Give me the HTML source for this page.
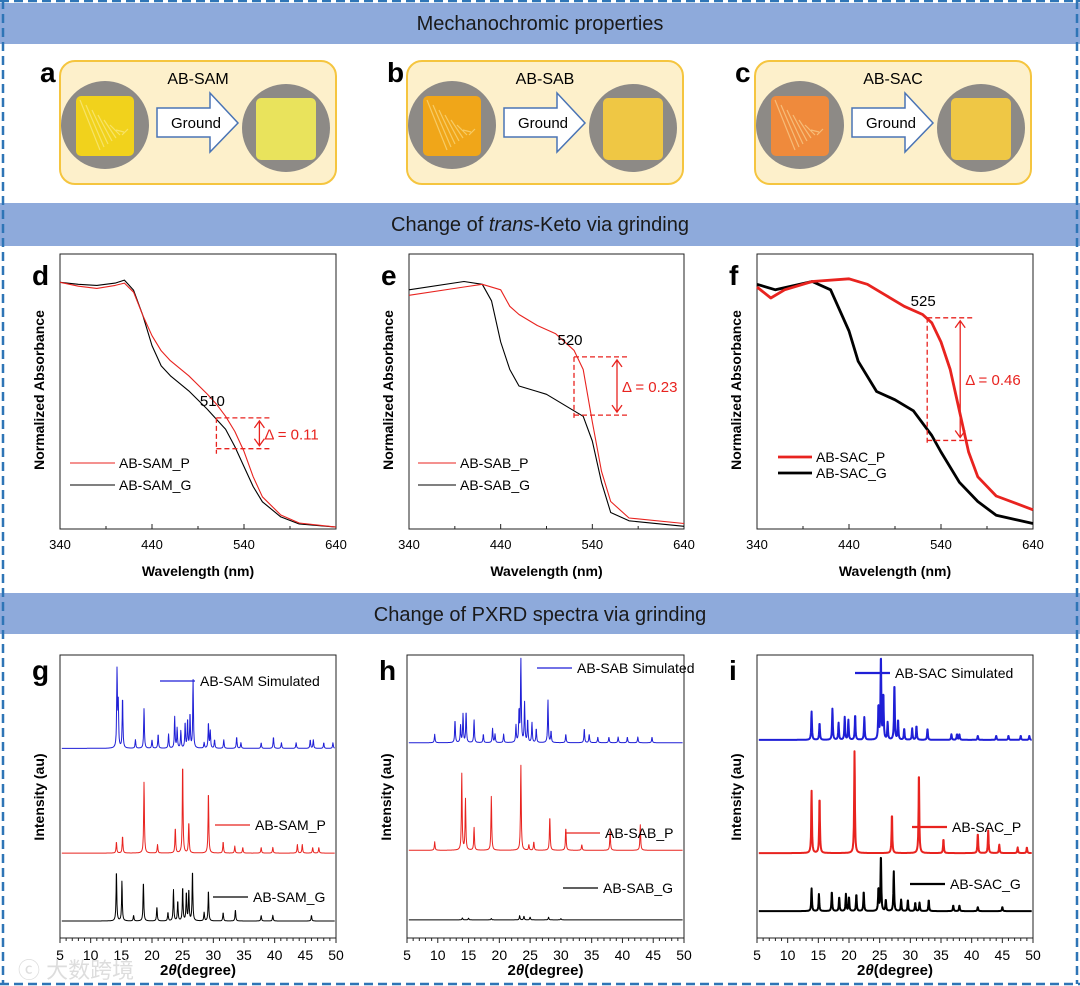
<!DOCTYPE html>
<html><head><meta charset="utf-8">
<style>
body{margin:0;background:#fff;}
svg{display:block;font-family:"Liberation Sans","Noto Sans CJK SC",sans-serif;}
</style></head>
<body>
<svg id="fig" width="1080" height="986" viewBox="0 0 1080 986" xmlns="http://www.w3.org/2000/svg">
<rect x="0" y="0" width="1080" height="986" fill="#fff"/>
<!-- header bands -->
<rect x="0" y="3" width="1080" height="41" fill="#8eaadb"/>
<text x="540" y="30" font-size="20" text-anchor="middle" fill="#1a1a1a">Mechanochromic properties</text>
<rect x="0" y="203" width="1080" height="43" fill="#8eaadb"/>
<text x="540" y="231" font-size="20" text-anchor="middle" fill="#1a1a1a">Change of <tspan font-style="italic">trans</tspan>-Keto via grinding</text>
<rect x="0" y="593" width="1080" height="41" fill="#8eaadb"/>
<text x="540" y="621" font-size="20" text-anchor="middle" fill="#1a1a1a">Change of PXRD spectra via grinding</text>
<!-- dashed frame -->
<g stroke="#2e75b6" stroke-width="2.5" stroke-dasharray="9 5" fill="none">
<line x1="3" y1="0" x2="3" y2="984"/><line x1="1077" y1="0" x2="1077" y2="984"/>
<line x1="0" y1="1" x2="1080" y2="1"/><line x1="0" y1="984" x2="1080" y2="984"/>
</g>
<g id="photos"></g>
<g id="uv"></g>
<g id="xrd"></g>
<text x="18" y="978" font-size="22" fill="#ddd">ⓒ 大数跨境</text>
</svg>
<script>
const NS="http://www.w3.org/2000/svg";
function mk(parent,tag,attrs,text){const e=document.createElementNS(NS,tag);for(const k in attrs)e.setAttribute(k,attrs[k]);if(text!==undefined)e.textContent=text;parent.appendChild(e);return e;}

/* ---------- photo panels ---------- */
const photoPanels=[
 {letter:"a",name:"AB-SAM",x:60,c1:"#f1d21c",c2:"#e9e35c"},
 {letter:"b",name:"AB-SAB",x:407,c1:"#f0a619",c2:"#efc744"},
 {letter:"c",name:"AB-SAC",x:755,c1:"#ef8a3c",c2:"#efc745"}
];
const P=document.getElementById("photos");
photoPanels.forEach(p=>{
 const g=mk(P,"g",{});
 
 
 const lt=mk(g,"text",{x:p.x-20,y:82,"font-size":28,"font-weight":"bold"},p.letter);
 
 
 const box=mk(g,"rect",{x:p.x,y:61,width:276,height:123,rx:15,fill:"#fdf0cb",stroke:"#f5c53f","stroke-width":2});
 
 
 const t=mk(g,"text",{x:p.x+138,y:84,"font-size":16,"text-anchor":"middle"},p.name);
 
 
 const c1=mk(g,"circle",{cx:p.x+45,cy:125,r:44,fill:"#8d8a86"});
 
 
 mk(g,"rect",{x:p.x+16,y:96,width:58,height:60,rx:5,fill:p.c1});
 for(let i=0;i<8;i++){mk(g,"line",{x1:p.x+20+i*6,y1:100+i*5,x2:p.x+40+i*4,y2:150-i*3,stroke:"#fff8c0","stroke-opacity":0.45,"stroke-width":1.2});}
 const c2=mk(g,"circle",{cx:p.x+226,cy:128,r:44,fill:"#8d8a86"});
 
 
 mk(g,"rect",{x:p.x+196,y:98,width:60,height:62,rx:5,fill:p.c2});
 const ar=mk(g,"path",{d:`M${p.x+97} 108 H${p.x+150} V93 L${p.x+178} 123 L${p.x+150} 152 V137 H${p.x+97} Z`,fill:"#fff",stroke:"#4a74b5","stroke-width":1.5});
 
 
 const gt=mk(g,"text",{x:p.x+136,y:128,"font-size":15,"text-anchor":"middle"},"Ground");
 
 
});

/* ---------- UV-vis data ---------- */
const dG_wl=[340,360,380,400,410,420,430,440,450,460,480,500,510,520,530,540,550,560,580,600,640];
const dG_abs=[0.897,0.89,0.886,0.894,0.905,0.868,0.777,0.667,0.593,0.557,0.502,0.436,0.399,0.363,0.300,0.227,0.154,0.099,0.044,0.018,0.007];
const dP_wl=[340,360,380,400,410,420,430,440,450,460,480,500,510,520,530,540,550,560,580,600,640];
const dP_abs=[0.897,0.883,0.875,0.886,0.894,0.861,0.777,0.703,0.648,0.612,0.557,0.491,0.454,0.410,0.355,0.282,0.190,0.117,0.051,0.022,0.007];
const eG_wl=[340,400,420,430,440,450,460,480,490,500,520,530,540,550,560,580,640];
const eG_abs=[0.87,0.90,0.89,0.83,0.68,0.58,0.52,0.50,0.49,0.47,0.43,0.41,0.32,0.17,0.06,0.03,0.01];
const eP_wl=[340,400,420,440,450,460,480,500,520,530,540,550,560,580,640];
const eP_abs=[0.85,0.88,0.89,0.87,0.81,0.78,0.74,0.71,0.65,0.58,0.39,0.21,0.10,0.04,0.02];
const fP_wl=[340,355,370,400,440,460,480,500,520,530,540,550,560,570,580,600,640];
const fP_abs=[0.88,0.84,0.87,0.90,0.91,0.89,0.85,0.81,0.78,0.75,0.68,0.58,0.43,0.28,0.19,0.12,0.07];
const fG_wl=[340,360,400,420,440,450,470,490,510,530,540,560,580,600,640];
const fG_abs=[0.89,0.87,0.90,0.87,0.72,0.61,0.50,0.47,0.43,0.34,0.28,0.17,0.10,0.05,0.02];
const uvTicks=[340,440,540,640];
const uvMarks=[510,520,525];
const uvDeltas=["Δ = 0.11","Δ = 0.23","Δ = 0.46"];
const uvSeriesNames=[["AB-SAM_P","AB-SAM_G"],["AB-SAB_P","AB-SAB_G"],["AB-SAC_P","AB-SAC_G"]];

const uvPanels=[
 {letter:"d",x0:60,x1:336,w:1.1,P:[dP_wl,dP_abs],G:[dG_wl,dG_abs],legX:70,legY:463,legY2:485,lw:45,
  ann:{lab:510,top:0.404,bot:0.292,dx:55,dlx:6}},
 {letter:"e",x0:409,x1:684,w:1.1,P:[eP_wl,eP_abs],G:[eG_wl,eG_abs],legX:418,legY:463,legY2:485,lw:38,
  ann:{lab:520,top:0.626,bot:0.414,dx:55,dlx:6}},
 {letter:"f",x0:757,x1:1033,w:2.8,P:[fP_wl,fP_abs],G:[fG_wl,fG_abs],legX:778,legY:457,legY2:473,lw:34,
  ann:{lab:525,top:0.768,bot:0.322,dx:45,dlx:6}}
];
const UVY0=529,UVY1=254;
const U=document.getElementById("uv");
uvPanels.forEach((p,pi)=>{
 const xs=v=>p.x0+(v-340)/300*(p.x1-p.x0);
 const ys=v=>UVY0-v*(UVY0-UVY1)/1.0;
 const g=mk(U,"g",{});
 
 
 const lt=mk(g,"text",{x:p.x0-28,y:285,"font-size":28,"font-weight":"bold"},p.letter);
 
 
 const fr=mk(g,"rect",{x:p.x0,y:UVY1,width:p.x1-p.x0,height:UVY0-UVY1,fill:"none",stroke:"#222","stroke-width":1});
 
 
 for(let v=340;v<=640;v+=50){const L=uvTicks.includes(v)?5:3;mk(g,"line",{x1:xs(v),y1:UVY0,x2:xs(v),y2:UVY0-L,stroke:"#222"});}
 uvTicks.forEach(v=>{const t=mk(g,"text",{x:xs(v),y:UVY0+20,"font-size":13,"text-anchor":"middle"},v);
  
  });
 const xt=mk(g,"text",{x:(p.x0+p.x1)/2,y:576,"font-size":14,"font-weight":"bold","text-anchor":"middle"},"Wavelength (nm)");
 
 
 const yt=mk(g,"text",{x:0,y:0,"font-size":14,"font-weight":"bold","text-anchor":"middle",transform:`translate(${p.x0-16},390) rotate(-90)`},"Normalized Absorbance");
 
 
 [["G","#000"],["P","#e8231f"]].forEach(([k,col])=>{
  const [wl,ab]=p[k];
  const pts=wl.map((w,i)=>xs(w).toFixed(1)+","+ys(ab[i]).toFixed(1)).join(" ");
  const ln=mk(g,"polyline",{points:pts,fill:"none",stroke:col,"stroke-width":p.w,"stroke-linejoin":"round"});
  
  
 });
 // legend
 const l1=mk(g,"line",{x1:p.legX,y1:p.legY,x2:p.legX+p.lw,y2:p.legY,stroke:"#e8231f","stroke-width":p.w});
 
 
 const t1=mk(g,"text",{x:p.legX+p.lw+4,y:p.legY+5,"font-size":14},uvSeriesNames[pi][0]);
 
 
 const l2=mk(g,"line",{x1:p.legX,y1:p.legY2,x2:p.legX+p.lw,y2:p.legY2,stroke:"#000","stroke-width":p.w});
 
 
 const t2=mk(g,"text",{x:p.legX+p.lw+4,y:p.legY2+5,"font-size":14},uvSeriesNames[pi][1]);
 
 
 // annotation
 const a=p.ann, ax=xs(uvMarks[pi]), yT=ys(a.top), yB=ys(a.bot), xr=ax+a.dx;
 const ag=mk(g,"g",{stroke:"#e8231f","stroke-width":1.3,fill:"none","stroke-dasharray":"5 3"});
 
 
 mk(ag,"line",{x1:ax,y1:yT,x2:xr,y2:yT});
 mk(ag,"line",{x1:ax,y1:yB,x2:xr,y2:yB});
 mk(ag,"line",{x1:ax,y1:yT,x2:ax,y2:yB+5});
 const axx=xr-12;
 mk(g,"path",{d:`M${axx} ${yT+3} V${yB-3} M${axx-5} ${yT+10} L${axx} ${yT+3} L${axx+5} ${yT+10} M${axx-5} ${yB-10} L${axx} ${yB-3} L${axx+5} ${yB-10}`,stroke:"#e8231f","stroke-width":1.3,fill:"none"});
 const mt=mk(g,"text",{x:ax-4,y:yT-12,"font-size":15,"text-anchor":"middle"},uvMarks[pi]);
 
 
 const dt=mk(g,"text",{x:axx+5,y:(yT+yB)/2+6,"font-size":15,fill:"#e8231f"},uvDeltas[pi]);
 
 
});

/* ---------- PXRD data (peak positions 2θ / relative heights) ---------- */
const gSim_pos=[14.3,14.5,15.2,17.3,18.7,20,21,22.7,23.7,24.1,24.7,25.4,25.8,26.2,26.7,28.5,29.2,29.5,30.2,31.7,33.8,34.5,37.8,39.8,41.1,43.5,45.8,46.3,48,49.5];
const gSim_int=[27,15,18,3,14,3,5,5,11,7,6,9,10,12,24,2,9,6,3,3,4,2,2,4,2,2,3,3,2,2];
const gP_pos=[14.2,15.2,18.7,20.9,23.8,25.0,26,29.2,31.6,33.5,34.8,37.8,39.7,43.7,44.5,46.2,47.2];
const gP_int=[4,6,25,3,9,32,11,22,4,2.5,2,2,2,3,3,2,2];
const gG_pos=[14.2,15.1,17,18.6,20.8,22.6,23.5,24.2,25,25.6,26,26.6,28.5,29.2,31.6,33.6,37.8,39.7,46];
const gG_int=[18,14,2,14,5,3,11,7,12,10,11,18,3,11,3,4,2,2,2];
const hSim_pos=[9.5,12.8,13.7,14.1,14.6,15.9,17.4,18.9,19.3,20.7,22.7,23.2,23.5,24.1,24.6,25.3,26,27.9,28.4,30.8,33.8,34.6,36,37.8,39.3,40.8,42.5,44.8];
const hSim_int=[3,8,6,10,11,8,3,5,3,3,6,11,29,14,8,7,5,15,4,3,5,3,2,2,2,2,2,2];
const hP_pos=[9.5,13.9,14.5,15.9,18.7,23.5,24.8,25.6,28.2,30.8,33.4,38,42.9];
const hP_int=[3,27,18,8,19,30,2,3,12,8,2,7,9];
const hG_pos=[14,15,18.7,23.3,24,25,28,30];
const hG_int=[0.7,0.6,0.5,1.5,1.3,1,1,0.5];
const iSim_pos=[13.9,15.2,17.3,18.3,19.3,19.9,21,22.5,24.8,25.2,25.6,26.3,27.4,28,29,30.3,31,32.8,36.7,37.6,38,41,44,46,48,49.4];
const iSim_int=[10,6,11,6,8,7,9,8,12,30,16,6,20,7,4,4,5,4,2,2,2,1.5,1.5,1.5,1.5,1.5];
const iP_pos=[13.9,15.2,20.9,27,31.4,35.4,41,42.7,44.5,47.5,49];
const iP_int=[22,20,36,14,29,5,7,8,3,2,2];
const iG_pos=[13.9,15.1,17.2,18.4,19.5,20,21.2,22.4,24.8,25.2,26,27.3,28.5,29.6,30.8,31.5,33,37,38,41,45];
const iG_int=[8,6,7,5,6,5,6,7,8,20,4,14,4,4,3,3,4,2,2,1.5,1.5];
const xrdTicks=[5,10,15,20,25,30,35,40,45,50];
const xrdOffsets=[[67,30,6],[69,31,6.4],[70,30,9.5]];

const xrdPanels=[
 {letter:"g",x0:60,x1:336,w:1,series:[[gSim_pos,gSim_int],[gP_pos,gP_int],[gG_pos,gG_int]],
  names:["AB-SAM Simulated","AB-SAM_P","AB-SAM_G"],leg:[[160,681],[215,825],[213,897]]},
 {letter:"h",x0:407,x1:684,w:1,series:[[hSim_pos,hSim_int],[hP_pos,hP_int],[hG_pos,hG_int]],
  names:["AB-SAB Simulated","AB-SAB_P","AB-SAB_G"],leg:[[537,668],[565,833],[563,888]]},
 {letter:"i",x0:757,x1:1033,w:2,series:[[iSim_pos,iSim_int],[iP_pos,iP_int],[iG_pos,iG_int]],
  names:["AB-SAC Simulated","AB-SAC_P","AB-SAC_G"],leg:[[855,673],[912,827],[910,884]]}
];
const XY0=938,XY1=655;
const colors=["#1f1fd6","#e8231f","#000"];
const X=document.getElementById("xrd");
xrdPanels.forEach((p,pi)=>{
 const xs=v=>p.x0+(v-5)/45*(p.x1-p.x0);
 const ys=u=>XY0-u*(XY0-XY1)/100;
 const g=mk(X,"g",{});
 
 
 const lt=mk(g,"text",{x:p.x0-28,y:680,"font-size":28,"font-weight":"bold"},p.letter);
 
 
 const fr=mk(g,"rect",{x:p.x0,y:XY1,width:p.x1-p.x0,height:XY0-XY1,fill:"none",stroke:"#222","stroke-width":1});
 
 
 for(let v=5;v<=50;v+=1){const L=(v%5===0)?5:3;mk(g,"line",{x1:xs(v),y1:XY0,x2:xs(v),y2:XY0+L,stroke:"#222"});}
 xrdTicks.forEach(v=>{const t=mk(g,"text",{x:xs(v),y:XY0+22,"font-size":14,"text-anchor":"middle"},v);
  
  });
 const xt=mk(g,"text",{x:(p.x0+p.x1)/2,y:975,"font-size":15,"font-weight":"bold","text-anchor":"middle"},"");
 mk(xt,"tspan",{},"2");mk(xt,"tspan",{"font-style":"italic"},"θ");mk(xt,"tspan",{},"(degree)");
 
 
 const yt=mk(g,"text",{x:0,y:0,"font-size":14,"font-weight":"bold","text-anchor":"middle",transform:`translate(${p.x0-16},797) rotate(-90)`},"Intensity (au)");
 
 
 p.series.forEach((s,si)=>{
  const [pos,inten]=s, off=xrdOffsets[pi][si];
  const pts=[];
  for(let x=5.3;x<=49.8;x+=0.04){
   let u=0;
   for(let k=0;k<pos.length;k++){const d=(x-pos[k])/0.07;u+=inten[k]/(1+d*d);}
   pts.push(xs(x).toFixed(1)+","+ys(off+u).toFixed(1));
  }
  const ln=mk(g,"polyline",{points:pts.join(" "),fill:"none",stroke:colors[si],"stroke-width":p.w,"stroke-linejoin":"round"});
  
  
  const [lx,ly]=p.leg[si];
  const sw=mk(g,"line",{x1:lx,y1:ly,x2:lx+35,y2:ly,stroke:colors[si],"stroke-width":p.w+0.3});
  
  
  const lt2=mk(g,"text",{x:lx+40,y:ly+5,"font-size":14},p.names[si]);
  
  
 });
});
</script>
</body></html>
